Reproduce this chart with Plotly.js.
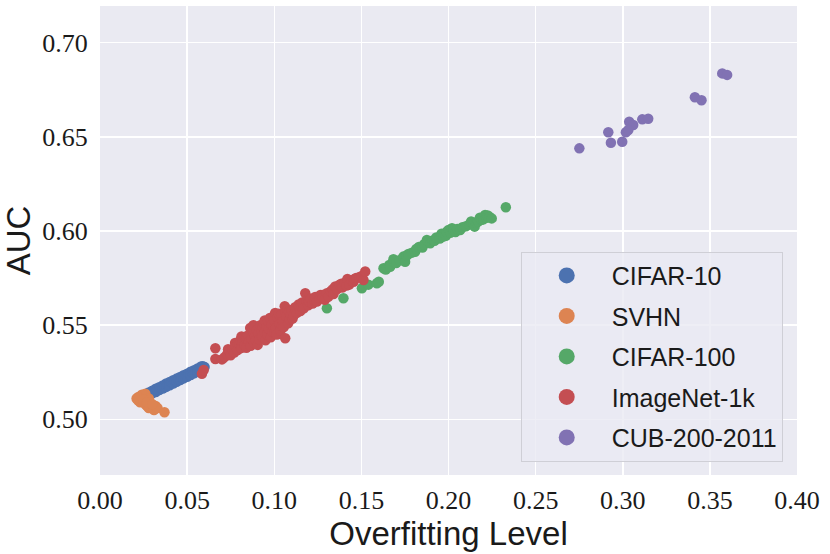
<!DOCTYPE html>
<html>
<head>
<meta charset="utf-8">
<script src="https://cdn.plot.ly/plotly-3.0.1.min.js"></script>
<style>
  html, body { margin: 0; padding: 0; background: #fff; }
  #myDiv { width: 830px; height: 554px; }
</style>
</head>
<body>
<div id="myDiv"></div>
<script>
// values
var names = ['CIFAR-10', 'SVHN', 'CIFAR-100', 'ImageNet-1k', 'CUB-200-2011'];
var colors = ['#4C72B0', '#DD8452', '#55A868', '#C44E52', '#8172B3'];

var cifar10X = [0.027,0.028,0.029,0.030,0.030,0.031,0.032,0.032,0.033,0.034,0.034,0.035,0.036,0.036,0.037,0.038,0.038,0.039,0.040,0.040,0.041,0.042,0.042,0.043,0.044,0.044,0.045,0.046,0.046,0.047,0.048,0.048,0.049,0.050,0.050,0.051,0.052,0.052,0.053,0.054,0.054,0.055,0.056,0.056,0.057,0.058,0.058,0.059,0.060];
var cifar10Y = [0.5128,0.5142,0.5134,0.5152,0.5138,0.5146,0.5162,0.5145,0.5156,0.5170,0.5155,0.5164,0.5180,0.5163,0.5174,0.5190,0.5172,0.5182,0.5198,0.5181,0.5193,0.5207,0.5190,0.5201,0.5216,0.5199,0.5210,0.5225,0.5208,0.5219,0.5234,0.5217,0.5228,0.5242,0.5226,0.5237,0.5252,0.5235,0.5246,0.5261,0.5244,0.5255,0.5270,0.5254,0.5264,0.5280,0.5262,0.5282,0.5278];

var svhnX = [0.021,0.022,0.023,0.023,0.024,0.024,0.025,0.025,0.026,0.026,0.027,0.027,0.028,0.028,0.029,0.030,0.031,0.031,0.032,0.033,0.037,0.022,0.025,0.027,0.030];
var svhnY = [0.5110,0.5100,0.5120,0.5090,0.5105,0.5130,0.5095,0.5115,0.5080,0.5136,0.5100,0.5070,0.5110,0.5060,0.5085,0.5075,0.5055,0.5049,0.5070,0.5060,0.5037,0.5118,0.5105,0.5090,0.5080];

var cifar100X = [0.1302,0.1397,0.1503,0.1540,0.1589,0.1600,0.1627,0.1640,0.1660,0.1665,0.1684,0.1684,0.1700,0.1720,0.1741,0.1751,0.1760,0.1770,0.1790,0.1808,0.1815,0.1830,0.1850,0.1860,0.1876,0.1895,0.1910,0.1920,0.1930,0.1950,0.1960,0.1970,0.1985,0.1990,0.2000,0.2010,0.2020,0.2030,0.2040,0.2050,0.2067,0.2080,0.2100,0.2120,0.2130,0.2143,0.2150,0.2160,0.2170,0.2180,0.2190,0.2200,0.2210,0.2220,0.2225,0.2235,0.2248,0.2329];
var cifar100Y = [0.5590,0.5643,0.5696,0.5715,0.5722,0.5730,0.5802,0.5795,0.5820,0.5810,0.5837,0.5850,0.5830,0.5845,0.5864,0.5837,0.5870,0.5878,0.5885,0.5890,0.5905,0.5915,0.5912,0.5930,0.5952,0.5935,0.5950,0.5948,0.5965,0.5960,0.5985,0.5970,0.5975,0.5996,0.6005,0.5990,0.6015,0.6000,0.5995,0.6010,0.6005,0.6020,0.6025,0.6035,0.6050,0.6040,0.6023,0.6045,0.6050,0.6070,0.6060,0.6062,0.6085,0.6070,0.6082,0.6075,0.6067,0.6126];

var imagenetX = [0.0585,0.0595,0.0662,0.0662,0.0700,0.0715,0.0730,0.0735,0.0745,0.0750,0.0760,0.0770,0.0775,0.0780,0.0790,0.0790,0.0800,0.0805,0.0810,0.0812,0.0820,0.0830,0.0835,0.0840,0.0840,0.0850,0.0855,0.0862,0.0865,0.0870,0.0875,0.0880,0.0880,0.0885,0.0890,0.0895,0.0900,0.0905,0.0910,0.0915,0.0920,0.0925,0.0930,0.0935,0.0940,0.0945,0.0945,0.0950,0.0955,0.0960,0.0965,0.0970,0.0975,0.0980,0.0985,0.0990,0.0995,0.1000,0.1000,0.1005,0.1010,0.1015,0.1020,0.1025,0.1030,0.1035,0.1040,0.1045,0.1050,0.1055,0.1060,0.1063,0.1065,0.1070,0.1075,0.1080,0.1085,0.1090,0.1095,0.1100,0.1105,0.1110,0.1120,0.1125,0.1130,0.1140,0.1145,0.1150,0.1155,0.1160,0.1170,0.1178,0.1185,0.1195,0.1200,0.1210,0.1220,0.1230,0.1235,0.1245,0.1260,0.1265,0.1275,0.1280,0.1290,0.1302,0.1310,0.1325,0.1335,0.1340,0.1350,0.1360,0.1375,0.1385,0.1390,0.1405,0.1415,0.1420,0.1430,0.1445,0.1455,0.1460,0.1470,0.1490,0.1500,0.1512,0.1522];
var imagenetY = [0.5242,0.5262,0.5377,0.5320,0.5318,0.5330,0.5345,0.5372,0.5360,0.5340,0.5372,0.5355,0.5405,0.5385,0.5368,0.5398,0.5400,0.5420,0.5378,0.5440,0.5410,0.5395,0.5430,0.5380,0.5440,0.5445,0.5412,0.5485,0.5390,0.5428,0.5482,0.5460,0.5500,0.5405,0.5440,0.5420,0.5475,0.5395,0.5455,0.5425,0.5500,0.5470,0.5440,0.5488,0.5510,0.5462,0.5525,0.5420,0.5490,0.5450,0.5520,0.5478,0.5538,0.5435,0.5500,0.5465,0.5545,0.5525,0.5460,0.5565,0.5485,0.5450,0.5540,0.5560,0.5505,0.5470,0.5555,0.5495,0.5520,0.5490,0.5600,0.5430,0.5570,0.5545,0.5585,0.5510,0.5570,0.5530,0.5555,0.5580,0.5535,0.5550,0.5595,0.5575,0.5565,0.5610,0.5590,0.5575,0.5600,0.5620,0.5590,0.5669,0.5630,0.5605,0.5625,0.5640,0.5615,0.5630,0.5650,0.5625,0.5645,0.5660,0.5660,0.5645,0.5635,0.5669,0.5650,0.5680,0.5690,0.5665,0.5705,0.5690,0.5715,0.5720,0.5700,0.5725,0.5710,0.5745,0.5715,0.5735,0.5730,0.5745,0.5750,0.5755,0.5760,0.5740,0.5785];

var cubX = [0.2751,0.2917,0.2932,0.2997,0.3018,0.3037,0.3060,0.3032,0.3112,0.3146,0.3414,0.3452,0.3571,0.3599];
var cubY = [0.6439,0.6524,0.6469,0.6474,0.6524,0.6580,0.6563,0.6536,0.6593,0.6596,0.6710,0.6694,0.6837,0.6829];

var xTicks = [0, 0.05, 0.10, 0.15, 0.20, 0.25, 0.30, 0.35, 0.40];
var yTicks = [0.50, 0.55, 0.60, 0.65, 0.70];

var seriesX = [cifar10X, svhnX, cifar100X, imagenetX, cubX];
var seriesY = [cifar10Y, svhnY, cifar100Y, imagenetY, cubY];

var data = [];
// the point clouds
for (var i = 0; i < names.length; i++) {
  data.push({
    x: seriesX[i],
    y: seriesY[i],
    name: names[i],
    type: 'scatter',
    mode: 'markers',
    marker: {color: colors[i], size: 10.5, line: {width: 0}},
    showlegend: false,
    hoverinfo: 'x+y+name'
  });
}
// legend entries with bigger markers
for (var j = 0; j < names.length; j++) {
  data.push({
    x: [null],
    y: [null],
    name: names[j],
    type: 'scatter',
    mode: 'markers',
    legendgroup: 'g' + j,
    marker: {color: colors[j], size: 16}
  });
}

var tickFont = {family: '"Liberation Serif", "DejaVu Serif", serif', size: 26, color: '#1a1a1a'};
var titleFont = {family: '"Liberation Sans", Arial, sans-serif', size: 33, color: '#1a1a1a'};

var layout = {
  width: 830,
  height: 554,
  margin: {l: 100, r: 33, t: 6, b: 79},
  paper_bgcolor: '#ffffff',
  plot_bgcolor: '#EAEAF2',
  showlegend: true,
  xaxis: {
    range: [0, 0.4],
    tickvals: xTicks,
    tickformat: '.2f',
    tickfont: tickFont,
    ticks: 'outside',
    ticklen: 2,
    tickcolor: 'rgba(0,0,0,0)',
    showgrid: true,
    gridcolor: '#ffffff',
    gridwidth: 1.5,
    zeroline: false,
    showline: false,
    title: {text: 'Overfitting Level', font: titleFont, standoff: 0}
  },
  yaxis: {
    range: [0.4704, 0.7195],
    tickvals: yTicks,
    tickformat: '.2f',
    tickfont: tickFont,
    ticks: 'outside',
    ticklen: 6,
    tickcolor: 'rgba(0,0,0,0)',
    showgrid: true,
    gridcolor: '#ffffff',
    gridwidth: 1.5,
    zeroline: false,
    showline: false,
    title: {text: 'AUC', font: titleFont, standoff: 12}
  },
  legend: {
    x: 0.9795,
    y: 0.0284,
    xanchor: 'right',
    yanchor: 'bottom',
    bgcolor: 'rgba(234,234,242,0.8)',
    bordercolor: '#cfcfd6',
    borderwidth: 1,
    font: {family: '"Liberation Sans", Arial, sans-serif', size: 25, color: '#1a1a1a'},
    itemwidth: 80,
    tracegroupgap: 5
  }
};

Plotly.newPlot('myDiv', data, layout, {displayModeBar: false, staticPlot: true});
</script>
</body>
</html>
